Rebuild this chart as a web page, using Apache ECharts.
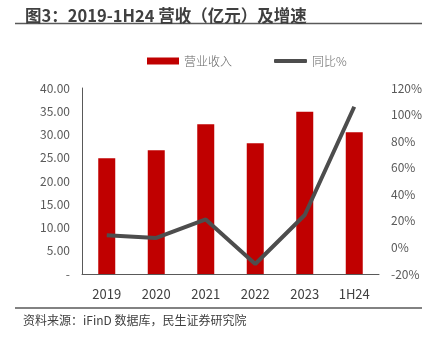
<!DOCTYPE html>
<html>
<head>
<meta charset="utf-8">
<script src="https://cdn.jsdelivr.net/npm/echarts@6/dist/echarts.min.js"></script>
<style>
  body { margin: 0; background: #fff; }
  #chart { width: 435px; height: 350px; }
</style>
</head>
<body>
<div id="chart"></div>
<script>
  // 数据
  var years = ['2019', '2020', '2021', '2022', '2023', '1H24'];
  var revenue = [24.9, 26.6, 32.2, 28.1, 34.9, 30.5];   // 营业收入（亿元）
  var growth = [9.1, 7.1, 21.1, -12.5, 24.4, 105.9];    // 同比%

  var font = '"Noto Sans CJK SC", sans-serif';
  var chart = echarts.init(document.getElementById('chart'));
  var legendText = { fontSize: 12, color: '#666666', fontFamily: font, fontWeight: 300 };
  var option = {
    animation: false,
    textStyle: { fontFamily: font },
    title: {
      text: '图3：2019-1H24 营收（亿元）及增速',
      left: 20, top: 2,
      textStyle: { fontSize: 16.5, fontWeight: 'bold', color: '#404040', fontFamily: font }
    },
    graphic: [
      { type: 'line', shape: { x1: 15, y1: 23.5, x2: 422, y2: 23.5 }, style: { stroke: '#595959', lineWidth: 1.5 } },
      { type: 'line', shape: { x1: 15, y1: 308, x2: 422, y2: 308 }, style: { stroke: '#595959', lineWidth: 1.5 } },
      { type: 'text', left: 23, top: 314, style: { text: '资料来源：iFinD 数据库，民生证券研究院', fontSize: 12, fill: '#404040', fontFamily: font } }
    ],
    legend: [
      {
        left: 142, top: 50,
        itemWidth: 32, itemHeight: 7,
        textStyle: legendText,
        data: [{ name: '营业收入', icon: 'rect' }]
      },
      {
        left: 269, top: 50,
        itemWidth: 33, itemHeight: 4,
        textStyle: legendText,
        data: [{ name: '同比%', icon: 'roundRect' }]
      }
    ],
    grid: { left: 82, right: 56, top: 88, bottom: 76 },
    xAxis: {
      type: 'category',
      data: years,
      axisLine: { lineStyle: { color: '#595959', width: 1 } },
      axisTick: { show: false },
      axisLabel: { fontSize: 13, color: '#404040', margin: 14, fontFamily: font }
    },
    yAxis: [
      {
        type: 'value', min: 0, max: 40, interval: 5,
        axisLine: { show: true, lineStyle: { color: '#595959' } },
        axisTick: { show: false },
        splitLine: { show: false },
        axisLabel: {
          fontSize: 12, color: '#595959', margin: 12, fontFamily: font,
          formatter: function (v) { return v === 0 ? '-' : v.toFixed(2); }
        }
      },
      {
        type: 'value', min: -20, max: 120, interval: 20,
        axisLine: { show: false },
        axisTick: { show: false },
        splitLine: { show: false },
        axisLabel: { fontSize: 12, color: '#595959', margin: 12, fontFamily: font, formatter: '{value}%' }
      }
    ],
    series: [
      {
        name: '营业收入', type: 'bar', data: revenue,
        barWidth: 17,
        itemStyle: { color: '#c00000' }
      },
      {
        name: '同比%', type: 'line', yAxisIndex: 1, data: growth,
        symbol: 'none',
        lineStyle: { color: '#4d4d4d', width: 4 },
        itemStyle: { color: '#4d4d4d' }
      }
    ]
  };
  chart.setOption(option);
</script>
</body>
</html>
